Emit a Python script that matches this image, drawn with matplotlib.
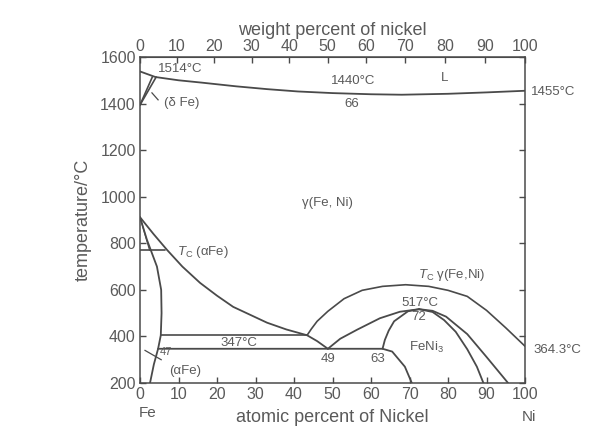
import numpy as np
import matplotlib.pyplot as plt

plt.rcParams['font.family'] = ['Liberation Sans', 'DejaVu Sans']
plt.rcParams['mathtext.fontset'] = 'custom'
plt.rcParams['mathtext.rm'] = 'Liberation Sans'
plt.rcParams['mathtext.it'] = 'Liberation Sans:italic'

# phase boundaries, x = atomic % Ni, t = temperature in deg C
liq_x = [0, 4, 10, 16, 25, 33, 41, 50, 60, 68, 80, 90, 100]
liq_t = [1538, 1514, 1500, 1490, 1474, 1462, 1452, 1445, 1440, 1438, 1442, 1448, 1455]

delta1_x = [0, 3.2]
delta1_t = [1394, 1514]
delta2_x = [0, 4.2]
delta2_t = [1394, 1514]

gamma_x = [0, 3.5, 7, 11, 15.6, 20, 24.2, 33, 38, 43.4, 46, 48.8]
gamma_t = [912, 840, 772, 700, 630, 575, 527, 459, 430, 405, 380, 347]

alpha_x = [0, 1.8, 4.4, 5.5, 5.6, 5.4, 4.7, 3.6, 2.6]
alpha_t = [912, 815, 700, 600, 500, 405, 347, 280, 200]

thin_x = [0, 2.5]
thin_t = [912, 770]

tc_alpha_x = [0, 6.6]
tc_alpha_t = [770, 770]

line405_x = [5.4, 43.4]
line405_t = [405, 405]

line347_x = [4.7, 63, 65.5, 68.8, 70.6]
line347_t = [347, 347, 335, 270, 200]

tc_gamma_x = [43.4, 44.5, 46, 48.8, 53, 57.7, 63, 69, 75, 80, 85, 90, 95, 100]
tc_gamma_t = [405, 432, 465, 508, 562, 598, 615, 622, 615, 598, 572, 512, 437, 358]

feni3_outer_l_x = [48.8, 52, 56.4, 62.3, 67.5, 72.5]
feni3_outer_l_t = [347, 390, 429, 478, 506, 517]
feni3_inner_l_x = [63, 63.6, 64.6, 66, 69.6, 72.5]
feni3_inner_l_t = [347, 385, 425, 465, 508, 517]
feni3_inner_r_x = [72.5, 76, 79, 82, 85, 87.5, 89.2]
feni3_inner_r_t = [517, 505, 470, 420, 345, 270, 200]
feni3_outer_r_x = [72.5, 76, 79.5, 85, 90, 93, 95.6]
feni3_outer_r_t = [517, 510, 485, 410, 312, 252, 200]

at_ticks = list(range(0, 101, 10))
wt_ticks = list(range(0, 101, 10))
t_ticks = list(range(200, 1601, 200))

M_FE, M_NI = 55.85, 58.69


def at_to_wt(a):
    a = np.asarray(a, dtype=float)
    return 100 * a * M_NI / (a * M_NI + (100 - a) * M_FE)


def wt_to_at(w):
    w = np.asarray(w, dtype=float)
    return 100 * (w / M_NI) / (w / M_NI + (100 - w) / M_FE)


lc = '#4a4a4a'
tc = '#5a5a5a'

fig = plt.figure(figsize=(5.95, 4.33), dpi=100)
ax = fig.add_axes([140 / 595, 1 - 383 / 433, 385 / 595, 326 / 433])

curves = [
    (liq_x, liq_t, 1.3), (delta1_x, delta1_t, 1.2), (delta2_x, delta2_t, 1.2),
    (gamma_x, gamma_t, 1.3), (alpha_x, alpha_t, 1.3), (thin_x, thin_t, 0.9),
    (tc_alpha_x, tc_alpha_t, 1.2), (line405_x, line405_t, 1.2),
    (line347_x, line347_t, 1.3), (tc_gamma_x, tc_gamma_t, 1.2),
    (feni3_outer_l_x, feni3_outer_l_t, 1.3), (feni3_inner_l_x, feni3_inner_l_t, 1.3),
    (feni3_inner_r_x, feni3_inner_r_t, 1.3), (feni3_outer_r_x, feni3_outer_r_t, 1.3),
]
for xs, ts, lw in curves:
    ax.plot(xs, ts, color=lc, lw=lw, solid_capstyle='round', solid_joinstyle='round')

# small leader marks
ax.plot([3.1, 4.7], [1446, 1416], color=lc, lw=0.9)
ax.plot([1.3, 5.5], [340, 300], color=lc, lw=0.9)

ax.set_xlim(0, 100)
ax.set_ylim(200, 1600)
ax.set_xticks(at_ticks)
ax.set_yticks(t_ticks)
ax.tick_params(direction='in', length=4, width=1, colors=lc, labelcolor=tc,
               labelsize=11.5, right=True, top=False, pad=3)
for s in ax.spines.values():
    s.set_color(lc)
    s.set_linewidth(1.1)

sec = ax.secondary_xaxis('top', functions=(at_to_wt, wt_to_at))
sec.set_xticks(wt_ticks)
sec.tick_params(direction='in', length=4, width=1, colors=lc, labelcolor=tc,
                labelsize=11.5, pad=2)
sec.spines['top'].set_color(lc)
sec.set_xlabel('weight percent of nickel', fontsize=13, color=tc, labelpad=3)

ax.set_ylabel('temperature/°C', fontsize=13, color=tc, labelpad=6)
ax.set_xlabel('atomic percent of Nickel', fontsize=13, color=tc, labelpad=5)

fs = 9.5
ax.text(10.4, 1550, '1514°C', fontsize=fs, color=tc, ha='center', va='center')
ax.text(55.3, 1497, '1440°C', fontsize=fs, color=tc, ha='center', va='center')
ax.text(55, 1398, '66', fontsize=fs, color=tc, ha='center', va='center')
ax.text(79, 1510, 'L', fontsize=fs, color=tc, ha='center', va='center')
ax.text(107.3, 1450, '1455°C', fontsize=fs, color=tc, ha='center', va='center',
        clip_on=False)
ax.text(10.8, 1403, '(δ Fe)', fontsize=fs, color=tc, ha='center', va='center')
ax.text(48.6, 973, 'γ(Fe, Ni)', fontsize=fs, color=tc, ha='center', va='center')
ax.text(16.4, 763, r'$T_{\rm C}$ (αFe)', fontsize=fs, color=tc, ha='center', va='center')
ax.text(81, 662, r'$T_{\rm C}$ γ(Fe,Ni)', fontsize=fs, color=tc, ha='center', va='center')
ax.text(72.7, 542, '517°C', fontsize=fs, color=tc, ha='center', va='center')
ax.text(72.5, 482, '72', fontsize=fs, color=tc, ha='center', va='center')
ax.text(74.5, 351, r'FeNi$_3$', fontsize=fs, color=tc, ha='center', va='center')
ax.text(48.8, 304, '49', fontsize=fs, color=tc, ha='center', va='center')
ax.text(61.8, 304, '63', fontsize=fs, color=tc, ha='center', va='center')
ax.text(25.7, 373, '347°C', fontsize=fs, color=tc, ha='center', va='center')
ax.text(108.3, 342, '364.3°C', fontsize=fs, color=tc, ha='center', va='center',
        clip_on=False)
ax.text(6.8, 334, '47', fontsize=8, color=tc, ha='center', va='center')
ax.text(11.7, 252, '(αFe)', fontsize=fs, color=tc, ha='center', va='center')
ax.text(2, 72, 'Fe', fontsize=11, color=tc, ha='center', va='center', clip_on=False)
ax.text(101, 52, 'Ni', fontsize=11, color=tc, ha='center', va='center', clip_on=False)

fig.savefig('out.png', dpi=100, facecolor='white')
